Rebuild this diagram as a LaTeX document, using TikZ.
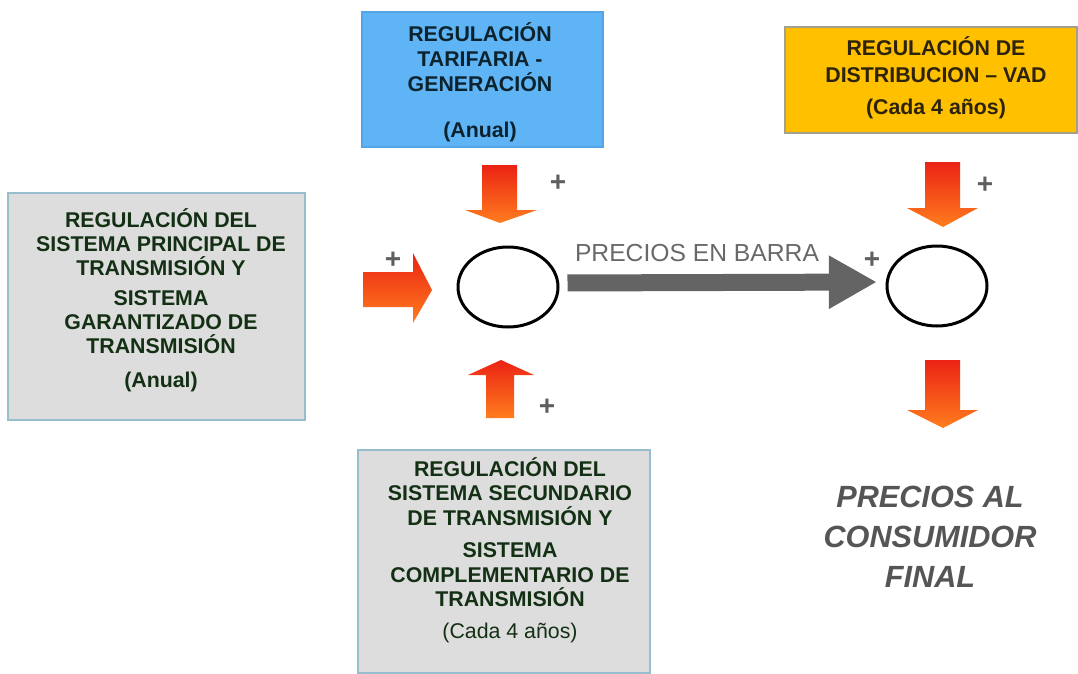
\documentclass[tikz,border=0pt]{standalone}
\usepackage{fontspec}
\setmainfont{Liberation Sans}
\usetikzlibrary{shapes.geometric,arrows.meta}

\tikzset{every picture/.style={line width=0.75pt}}
\tikzset{
	caja/.style={rectangle, inner sep=0pt, line width=1.1pt},
	cajagris/.style={caja, fill={rgb, 255:red, 221; green, 221; blue, 221}, draw={rgb, 255:red, 150; green, 190; blue, 205}},
	cajaazul/.style={caja, fill={rgb, 255:red, 95; green, 180; blue, 245}, draw={rgb, 255:red, 85; green, 165; blue, 230}},
	cajanaranja/.style={caja, fill={rgb, 255:red, 255; green, 192; blue, 0}, draw={rgb, 255:red, 165; green, 160; blue, 140}},
	texto/.style={align=center, inner sep=0pt, font=\fontsize{16}{18}\selectfont\bfseries},
	nodo/.style={ellipse, draw, line width=2.25pt, minimum width=75pt, minimum height=60pt, inner sep=0pt},
	signo/.style={inner sep=0pt, text={rgb, 255:red, 95; green, 95; blue, 95}, font=\fontsize{21}{21}\selectfont\bfseries},
	flechaGris/.style={draw={rgb, 255:red, 100; green, 100; blue, 100}, line width=12.75pt, -{Triangle[length=36pt, width=37.5pt]}},
	bloque/.style={top color={rgb, 255:red, 235; green, 35; blue, 20}, bottom color={rgb, 255:red, 255; green, 125; blue, 30}}
}

\begin{document}
\begin{tikzpicture}[x=0.75pt,y=0.75pt,yscale=-1,xscale=1]
		\useasboundingbox (0,0) rectangle (1078,674);
		
		% Boxes
		\node [cajagris, minimum width=222.75pt, minimum height=170.25pt] (cajaPrincipal) at (156.5,306.5) {};
		\node [cajaazul, minimum width=180.75pt, minimum height=101.25pt] (cajaGeneracion) at (482.5,79.5) {};
		\node [cajanaranja, minimum width=219pt, minimum height=79.5pt] (cajaVAD) at (931,80) {};
		\node [cajagris, minimum width=219pt, minimum height=167.25pt] (cajaSecundario) at (504,561.5) {};
		
		% Text Node
		\node [texto, text={rgb, 255:red, 20; green, 48; blue, 20}] (txtPrincipal) at (161,300) {REGULACIÓN DEL\\SISTEMA PRINCIPAL DE\\TRANSMISIÓN Y\\[4.5pt]SISTEMA\\GARANTIZADO DE\\TRANSMISIÓN\\[7.5pt](Anual)};
		% Text Node
		\node [texto, text={rgb, 255:red, 12; green, 35; blue, 45}, font=\fontsize{16}{19}\selectfont\bfseries] (txtGeneracion) at (480,82) {REGULACIÓN\\TARIFARIA -\\GENERACIÓN\\[15pt](Anual)};
		% Text Node
		\node [texto, text={rgb, 255:red, 45; green, 35; blue, 10}, font=\fontsize{16}{20}\selectfont\bfseries] (txtVAD) at (936,78) {REGULACIÓN DE\\DISTRIBUCION – VAD\\[4pt](Cada 4 años)};
		% Text Node
		\node [texto, text={rgb, 255:red, 20; green, 48; blue, 20}, font=\fontsize{16}{18.5}\selectfont\bfseries] (txtSecundario) at (510,550) {REGULACIÓN DEL\\SISTEMA SECUNDARIO\\DE TRANSMISIÓN Y\\[5.5pt]SISTEMA\\COMPLEMENTARIO DE\\TRANSMISIÓN\\[5pt]{\mdseries (Cada 4 años)}};
		
		% Ellipses
		\node [nodo] (nodoBarra) at (508,287) {};
		\node [nodo] (nodoFinal) at (937,286) {};
		
		% Gray arrow
		\draw [flechaGris, shorten <=6pt, shorten >=6.5pt] ([yshift=-3pt]nodoBarra.east) -- ([yshift=-3pt]nodoFinal.west);
		\node [inner sep=0pt, text={rgb, 255:red, 105; green, 105; blue, 105}, font=\fontsize{18.5}{18.5}\selectfont] (txtBarra) at (697,253) {PRECIOS EN BARRA};
		
		% Block arrows
		\shade [bloque] (482,165) -- (517,165) -- (517,210) -- (537,210) -- (500,223) -- (465,210) -- (482,210) -- cycle;
		\shade [bloque] (925,162) -- (960,162) -- (960,208) -- (978,208) -- (943,227) -- (907,208) -- (925,208) -- cycle;
		\shade [bloque] (925,360) -- (960,360) -- (960,410) -- (978,410) -- (943,428) -- (907,410) -- (925,410) -- cycle;
		\shade [bloque] (486,418) -- (514,418) -- (514,375) -- (534,375) -- (501,360) -- (468,375) -- (486,375) -- cycle;
		\shade [bloque] (363,272) -- (413,272) -- (413,253) -- (432,290) -- (413,323) -- (413,307) -- (363,307) -- cycle;
		
		% Plus signs
		\node [signo] (masGen) at (558,183) {+};
		\node [signo] (masPrin) at (393,260) {+};
		\node [signo] (masSec) at (547,407) {+};
		\node [signo] (masVAD) at (985,185) {+};
		\node [signo] (masBarra) at (872,260) {+};
		
		% Text Node
		\node [align=center, inner sep=0pt, text={rgb, 255:red, 85; green, 85; blue, 85}, font=\fontsize{23}{30}\selectfont\bfseries\itshape] (txtConsumidor) at (930,537) {PRECIOS AL\\CONSUMIDOR\\FINAL};
\end{tikzpicture}
\end{document}
